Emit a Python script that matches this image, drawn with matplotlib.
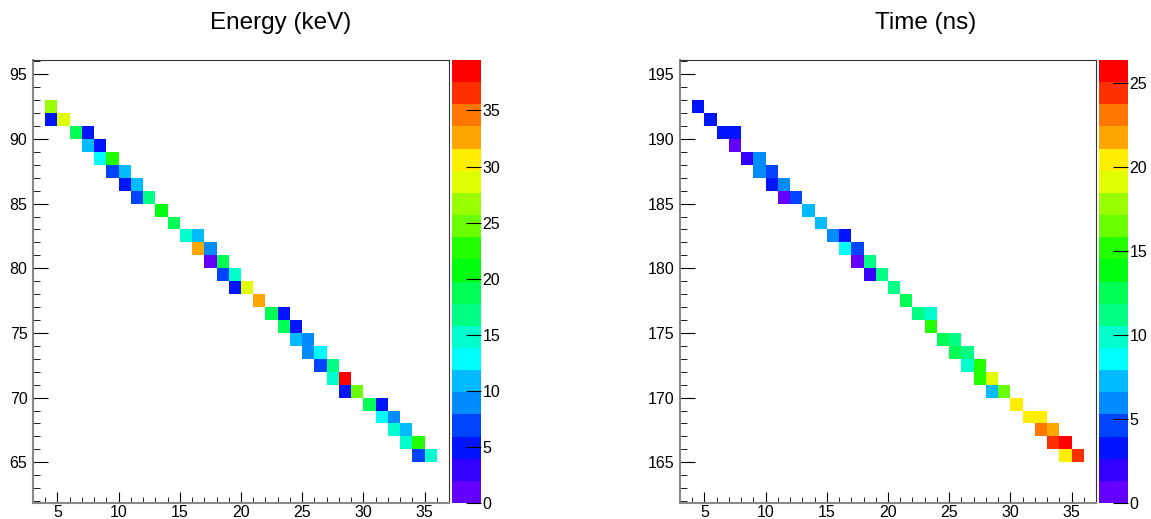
import colorsys
import numpy as np
import matplotlib
matplotlib.use('Agg')
import matplotlib.pyplot as plt
from matplotlib.colors import ListedColormap
from matplotlib.ticker import MultipleLocator

plt.rcParams['font.family'] = ['Liberation Sans', 'DejaVu Sans']

# Energy (keV): lower bin edges in x / y and bin contents
e_x = [4, 4, 5, 6, 7, 7, 8, 8, 9, 9, 10, 10, 11, 11, 12, 13, 14, 15, 16, 16,
       17, 17, 18, 18, 19, 19, 20, 21, 22, 23, 23, 24, 24, 25, 25, 26, 26, 27,
       27, 28, 28, 29, 30, 31, 31, 32, 32, 33, 33, 34, 34, 35]
e_y = [92, 91, 91, 90, 90, 89, 89, 88, 88, 87, 87, 86, 86, 85, 85, 84, 83, 82,
       82, 81, 81, 80, 80, 79, 79, 78, 78, 77, 76, 76, 75, 75, 74, 74, 73, 73,
       72, 72, 71, 71, 70, 70, 69, 69, 68, 68, 67, 67, 66, 66, 65, 65]
e_val = [26.7, 4.9, 28.6, 18.8, 4.9, 10.9, 5.0, 12.8, 22.7, 6.9, 10.8, 4.9,
         10.9, 6.9, 16.8, 20.7, 18.7, 14.8, 10.9, 32.6, 8.9, 1.0, 18.8, 6.9,
         14.8, 4.9, 28.6, 32.6, 18.8, 4.9, 18.7, 5.0, 10.9, 8.9, 8.8, 12.8,
         6.9, 16.8, 14.8, 39.4, 4.9, 24.7, 18.8, 4.9, 12.8, 8.9, 14.8, 10.9,
         14.8, 22.7, 6.9, 14.8]

# Time (ns)
t_x = [4, 5, 6, 7, 7, 8, 9, 9, 10, 10, 11, 11, 12, 13, 14, 15, 16, 16, 17, 17,
       18, 18, 19, 20, 21, 22, 23, 23, 24, 25, 25, 26, 26, 27, 27, 28, 28, 29,
       30, 31, 32, 32, 33, 33, 34, 34, 35]
t_y = [192, 191, 190, 190, 189, 188, 188, 187, 187, 186, 186, 185, 185, 184,
       183, 182, 182, 181, 181, 180, 180, 179, 179, 178, 177, 176, 176, 175,
       174, 174, 173, 173, 172, 172, 171, 171, 170, 170, 169, 168, 168, 167,
       167, 166, 166, 165, 165]
t_val = [3.3, 3.3, 3.4, 3.2, 0.7, 2.0, 5.9, 6.0, 4.6, 3.3, 5.9, 0.7, 4.6, 7.3,
         7.2, 5.9, 3.3, 8.6, 4.6, 0.7, 11.2, 2.0, 11.2, 11.3, 12.5, 11.2, 9.9,
         15.2, 12.5, 11.2, 12.6, 11.2, 9.9, 15.2, 15.1, 19.1, 7.3, 16.5, 20.5,
         20.4, 20.5, 23.1, 21.8, 24.4, 26.3, 20.5, 24.4]

# ROOT "pretty" palette (50 hues) sampled at 20 contour levels
pal = []
for j in range(20):
    i = int((j + 0.99) * 50 / 20)
    pal.append(colorsys.hls_to_rgb((280 - (i + 1) * 5.6) / 360.0, 0.5, 1.0))
cmap = ListedColormap(pal)

W, H = 1151, 519
fig = plt.figure(figsize=(W / 100, H / 100), dpi=100)


def panel(x0, cbx0, xs, ys, vals, ylo, zmax, title, tx):
    ax = fig.add_axes([x0 / W, 16 / H, 416 / W, 443 / H])
    cax = fig.add_axes([cbx0 / W, 16 / H, 29 / W, 443 / H])
    xe = np.arange(3, 38)
    ye = np.arange(ylo, ylo + 35)
    grid = np.full((len(ye) - 1, len(xe) - 1), np.nan)
    for x, y, v in zip(xs, ys, vals):
        grid[y - ylo, x - 3] = v
    m = ax.pcolormesh(xe, ye, np.ma.masked_invalid(grid), cmap=cmap,
                      vmin=0, vmax=zmax)
    ax.set_xlim(3, 37)
    ax.set_ylim(ylo - 0.15, ylo + 34.1)
    ax.xaxis.set_major_locator(MultipleLocator(5))
    ax.xaxis.set_minor_locator(MultipleLocator(1))
    ax.yaxis.set_major_locator(MultipleLocator(5))
    ax.yaxis.set_minor_locator(MultipleLocator(1))
    ax.tick_params(axis='x', which='major', direction='in', length=8,
                   labelsize=11.5, pad=1.5)
    ax.tick_params(axis='x', which='minor', direction='in', length=4.3)
    ax.tick_params(axis='y', which='major', direction='in', length=10.6,
                   labelsize=11.5, pad=4)
    ax.tick_params(axis='y', which='minor', direction='in', length=5.3)
    for s in ['left', 'bottom']:
        ax.spines[s].set_color('#888888')
        ax.spines[s].set_linewidth(1.5)
    for s in ['top', 'right']:
        ax.spines[s].set_color('#333333')
        ax.spines[s].set_linewidth(0.8)

    cb = fig.colorbar(m, cax=cax)
    cb.outline.set_visible(False)
    cb.set_ticks(np.arange(0, zmax, 5))
    cb.ax.tick_params(direction='in', length=10.8, labelsize=11.5, pad=1)
    cb.ax.minorticks_off()

    fig.text(tx / W, 1 - 29 / H, title, ha='center', va='baseline',
             fontsize=17.5)
    return ax


panel(33, 452, e_x, e_y, e_val, 62, 39.5, 'Energy (keV)', 281)
panel(680, 1099, t_x, t_y, t_val, 162, 26.4, 'Time (ns)', 926)

fig.savefig('out.png', dpi=100)
